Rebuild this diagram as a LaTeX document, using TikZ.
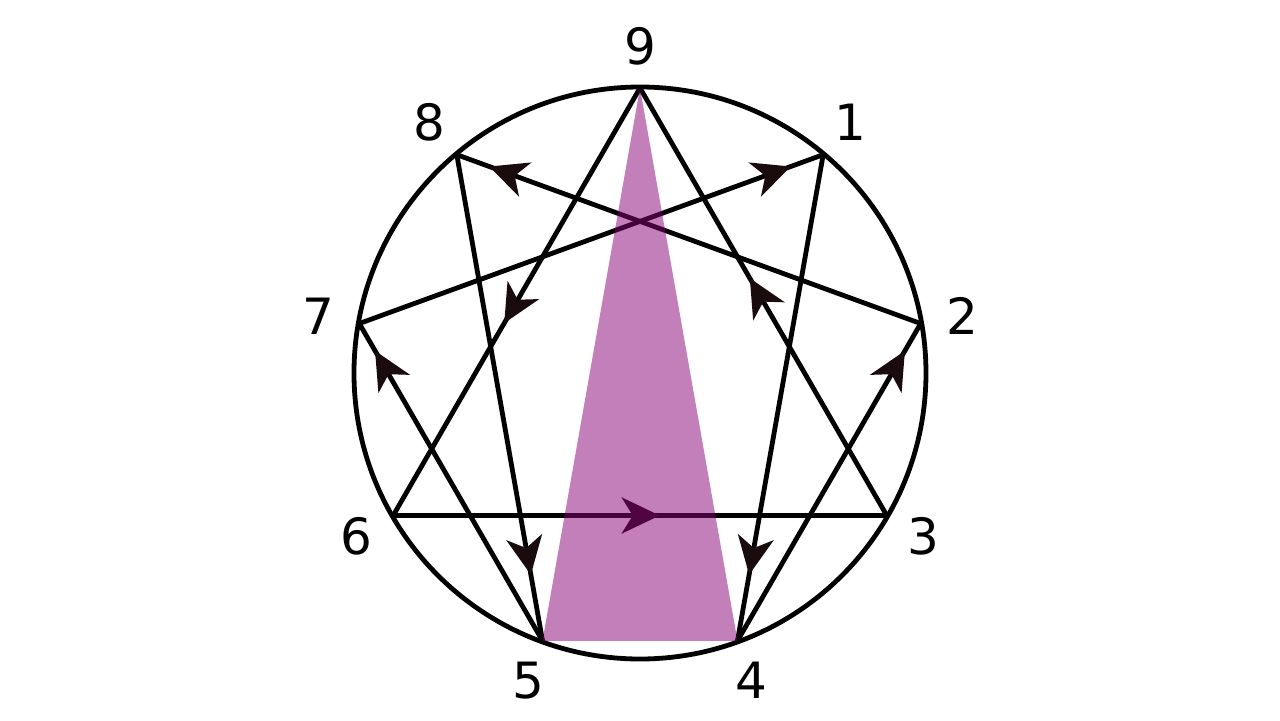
\documentclass[tikz,border=0pt]{standalone}
\usepackage{fontspec}
\setmainfont{DejaVu Sans}
\usepackage{xcolor}
\usepackage{tikz}
\usetikzlibrary{arrows.meta,decorations.markings}
\definecolor{plum}{HTML}{870075}
\definecolor{tipdark}{HTML}{1A0C0C}
\begin{document}
\begin{tikzpicture}[x=0.5pt,y=0.5pt,
  edge/.style={line width=2.4pt,line cap=round,draw=black},
  flowat/.style={postaction={decorate},decoration={markings,
    mark=at position #1 with {\arrow[color=tipdark]{Stealth[length=19pt,width=18pt,inset=5.5pt]}}}},
  num/.style={font=\fontsize{25}{30}\selectfont,inner sep=0pt}]
  \useasboundingbox (-640,-347) rectangle (640,373);
  \foreach \n/\a in {9/90,1/50,2/10,3/-30,4/-70,5/-110,6/-150,7/170,8/130} {
    \coordinate (p\n) at (\a:285);
    \node[num] (n\n) at (\a:327) {\n};
  }
  \draw[edge] (0,0) circle (286);
  % inner triangle
  \draw[edge,flowat=0.55] (p9) -- (p6);
  \draw[edge,flowat=0.54] (p6) -- (p3);
  \draw[edge,flowat=0.555] (p3) -- (p9);
  % hexad
  \draw[edge,flowat=0.93] (p7) -- (p1);
  \draw[edge,flowat=0.864] (p1) -- (p4);
  \draw[edge,flowat=0.914] (p4) -- (p2);
  \draw[edge,flowat=0.93] (p2) -- (p8);
  \draw[edge,flowat=0.864] (p8) -- (p5);
  \draw[edge,flowat=0.914] (p5) -- (p7);
  \fill[plum,opacity=.5] (p9) -- (p4) -- (p5) -- cycle;
\end{tikzpicture}
\end{document}
